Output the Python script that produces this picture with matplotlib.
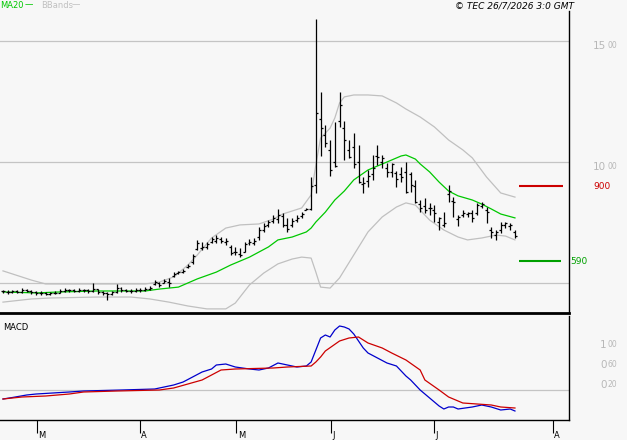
import matplotlib
matplotlib.use("Agg")
import matplotlib.pyplot as plt
from matplotlib.transforms import blended_transform_factory

# daily OHLC bars
opens = [466, 464, 462, 466, 463, 470, 466, 462, 458, 460, 456, 458, 460, 466, 472, 470,
         468, 471, 469, 467, 474, 462, 458, 455, 462, 478, 470, 468, 466, 472, 470, 474,
         495, 500, 502, 505, 530, 542, 545, 565, 585, 640, 645, 650, 668, 675, 680, 670,
         650, 630, 620, 630, 665, 665, 690, 720, 740, 755, 765, 775, 740, 740, 760, 775,
         802, 805, 905, 1178, 1112, 1050, 1000, 1170, 1140, 1050, 1060, 1000, 910, 920, 950, 1025,
         1000, 975, 960, 955, 950, 959, 950, 900, 825, 820, 810, 800, 750, 740, 868, 840,
         765, 780, 785, 790, 790, 820, 800, 720, 700, 720, 740, 735, 710]
highs = [472, 470, 470, 472, 478, 474, 470, 466, 468, 462, 464, 466, 474, 478, 476, 474,
         480, 475, 474, 500, 476, 466, 462, 468, 495, 482, 476, 474, 480, 478, 484, 488,
         512, 504, 517, 521, 545, 550, 558, 580, 620, 678, 669, 668, 690, 698, 690, 686,
         657, 649, 645, 669, 682, 686, 731, 748, 760, 781, 806, 789, 769, 769, 781, 793,
         810, 938, 1591, 1289, 1153, 1091, 1165, 1289, 1169, 1091, 1120, 1070, 938, 967, 1029, 1070,
         1029, 996, 996, 963, 979, 1000, 959, 926, 843, 851, 831, 822, 773, 793, 905, 855,
         781, 802, 793, 802, 831, 835, 814, 731, 719, 752, 752, 748, 719]
lows = [458, 456, 458, 458, 460, 462, 455, 452, 452, 450, 452, 454, 458, 462, 464, 462,
        464, 462, 460, 464, 456, 450, 430, 452, 458, 464, 462, 460, 462, 464, 466, 470,
        492, 483, 498, 483, 525, 538, 540, 560, 580, 636, 636, 640, 665, 665, 665, 657,
        616, 616, 607, 628, 657, 657, 678, 711, 731, 748, 748, 731, 711, 731, 752, 769,
        800, 802, 870, 1025, 1062, 942, 979, 1145, 1008, 1017, 975, 913, 872, 897, 926, 988,
        975, 938, 938, 897, 917, 872, 876, 831, 793, 789, 781, 752, 719, 731, 835, 773,
        736, 773, 773, 752, 781, 810, 748, 686, 678, 707, 727, 719, 686]
closes = [465, 462, 466, 463, 470, 468, 462, 458, 460, 456, 458, 460, 466, 472, 470, 468,
          471, 469, 467, 474, 462, 458, 455, 462, 478, 470, 468, 466, 472, 470, 474, 480,
          505, 490, 510, 500, 538, 545, 550, 572, 610, 665, 650, 660, 680, 685, 675, 675,
          625, 628, 615, 660, 670, 675, 720, 735, 750, 770, 780, 740, 725, 755, 770, 785,
          806, 900, 1202, 1140, 1079, 967, 983, 1236, 1091, 1021, 992, 917, 913, 942, 975, 1021,
          1017, 959, 992, 930, 938, 876, 905, 835, 810, 802, 810, 789, 769, 748, 880, 835,
          773, 789, 789, 769, 822, 825, 793, 711, 711, 740, 748, 740, 694]

# moving average and bollinger bands (read at bar index)
ma_idx = [0, 7, 12, 20, 30, 33, 37, 41, 45, 48, 52, 56, 58, 61, 64, 65, 66, 68, 70, 72,
          74, 77, 81, 84, 85, 87, 88, 90, 92, 94, 96, 99, 101, 103, 105, 108]
ma20 = [463, 459, 463, 467, 467, 475, 483, 517, 545, 574, 607, 649, 678, 690, 711, 727,
        752, 793, 843, 880, 926, 967, 1000, 1025, 1029, 1012, 992, 959, 917, 880, 860, 843,
        826, 806, 785, 769]
up_idx = [0, 6, 9, 20, 30, 33, 36, 39, 41, 44, 47, 50, 54, 57, 59, 63, 65, 66, 67, 69,
          70, 71, 72, 74, 77, 80, 83, 85, 88, 91, 94, 97, 99, 102, 105, 108]
bb_up = [550, 512, 496, 496, 496, 504, 525, 574, 616, 686, 727, 740, 744, 764, 785, 810,
         864, 988, 1099, 1140, 1182, 1244, 1269, 1277, 1277, 1273, 1244, 1219, 1186, 1145,
         1091, 1050, 1017, 938, 872, 855]
lo_idx = [0, 6, 10, 20, 27, 31, 35, 39, 43, 47, 49, 52, 55, 58, 61, 63, 65, 66, 67, 69,
          71, 74, 77, 80, 83, 85, 87, 90, 93, 96, 98, 101, 104, 106, 108]
bb_low = [421, 434, 438, 442, 442, 434, 421, 405, 393, 393, 417, 492, 541, 579, 599, 607,
          603, 545, 483, 479, 521, 616, 711, 773, 814, 831, 822, 760, 719, 690, 678, 686,
          698, 694, 678]

# MACD panel
macd_idx = [0, 2, 5, 7, 14, 17, 25, 32, 34, 36, 38, 40, 42, 44, 45, 47, 49, 52, 54, 56,
            58, 60, 62, 64, 65, 66, 67, 68, 69, 70, 71, 72, 73, 74, 76, 77, 79, 81, 83, 85,
            86, 88, 90, 92, 93, 94, 95, 96, 99, 101, 103, 105, 107, 108]
macd = [-0.18, -0.15, -0.10, -0.08, -0.04, -0.02, 0.00, 0.02, 0.06, 0.10, 0.16, 0.26, 0.36,
        0.42, 0.50, 0.52, 0.46, 0.42, 0.40, 0.44, 0.54, 0.50, 0.46, 0.48, 0.56, 0.80, 1.04,
        1.10, 1.06, 1.20, 1.28, 1.26, 1.22, 1.12, 0.84, 0.74, 0.64, 0.54, 0.48, 0.28, 0.20,
        0.00, -0.16, -0.32, -0.38, -0.34, -0.34, -0.38, -0.34, -0.30, -0.34, -0.40, -0.38, -0.42]
sig_idx = [0, 4, 9, 14, 17, 24, 33, 36, 39, 42, 44, 46, 49, 57, 60, 65, 66, 67, 68, 71,
           73, 75, 77, 80, 82, 85, 88, 89, 92, 94, 97, 100, 103, 105, 108]
signal = [-0.18, -0.14, -0.12, -0.08, -0.04, -0.02, 0.00, 0.04, 0.12, 0.20, 0.30, 0.40,
          0.42, 0.44, 0.46, 0.48, 0.56, 0.66, 0.78, 0.98, 1.04, 1.06, 0.94, 0.84, 0.74, 0.60,
          0.40, 0.20, 0.00, -0.14, -0.26, -0.28, -0.30, -0.34, -0.36]

month_ticks = [7.2, 28.9, 49.2, 69.2, 90.9, 116.0]
month_labels = ["M", "A", "M", "J", "J", "A"]
price_ticks = [1500, 1000]
macd_ticks = [1.00, 0.60, 0.20]
resistance = 900
support = 590

W, H = 627, 440
bg = "#f7f7f7"
grey = "#c4c4c4"
lbl = "#b8b8b8"

fig = plt.figure(figsize=(W / 100, H / 100), dpi=100, facecolor=bg)
ax = fig.add_axes([0, 1 - 313 / H, 569 / W, 302 / H], facecolor=bg)
ax2 = fig.add_axes([0, 1 - 420 / H, 569 / W, 104 / H], facecolor=bg)

xmin, xmax = -0.63, 119.4
n = len(closes)
xs = list(range(n))

# ---- price panel
for g in price_ticks + [500]:
    ax.axhline(g, color=grey, lw=0.9, zorder=0)
ax.plot(up_idx, bb_up, color="#c0c0c0", lw=0.9)
ax.plot(lo_idx, bb_low, color="#c0c0c0", lw=0.9)
ax.plot(ma_idx, ma20, color="#00c800", lw=0.9)
ax.vlines(xs, lows, highs, color="black", lw=0.9)
ax.hlines(opens, [x - 0.42 for x in xs], xs, color="black", lw=0.9)
ax.hlines(closes, xs, [x + 0.42 for x in xs], color="black", lw=0.9)

ax.hlines(resistance, 108.9, 118.1, color="#cc0000", lw=1.5)
ax.hlines(support, 108.9, 117.7, color="#00a000", lw=1.5)

ax.set_xlim(xmin, xmax)
ax.set_ylim(376, 1624)
ax.set_xticks([])
ax.set_yticks([])
for s in ["top", "left"]:
    ax.spines[s].set_visible(False)
ax.spines["bottom"].set_linewidth(2)
ax.spines["right"].set_linewidth(1)

# right hand labels: big leading digits, small trailing digits
tr = blended_transform_factory(fig.transFigure, ax.transData)
for p in price_ticks:
    ax.text(593 / W, p, str(p)[:-2], transform=tr, fontsize=7.5, color=lbl,
            va="top", ha="left")
    ax.text(607.5 / W, p, "00", transform=tr, fontsize=5.5, color=lbl,
            va="top", ha="left")
ax.text(593 / W, resistance, str(resistance), transform=tr, fontsize=6.5,
        color="#cc0000", va="center", ha="left")
ax.text(570 / W, support, str(support), transform=tr, fontsize=6.5,
        color="#00a000", va="center", ha="left")

# ---- MACD panel
ax2.axhline(0, color=grey, lw=0.9, zorder=0)
ax2.plot(macd_idx, macd, color="#0000cc", lw=0.9)
ax2.plot(sig_idx, signal, color="#cc0000", lw=0.9)
ax2.set_xlim(xmin, xmax)
ax2.set_ylim(-0.6, 1.48)
ax2.set_yticks([])
for s in ["top", "left"]:
    ax2.spines[s].set_visible(False)
ax2.spines["bottom"].set_linewidth(1)
ax2.spines["right"].set_linewidth(1)
ax2.set_xticks(month_ticks)
ax2.set_xticklabels([])
ax2.tick_params(axis="x", direction="out", length=9, width=0.8, color="black")
trx = blended_transform_factory(ax2.transData, fig.transFigure)
for t, lab in zip(month_ticks, month_labels):
    ax2.text(t + 0.3, 1 - 431 / H, lab, transform=trx, fontsize=6, va="top",
             ha="left", color="black")
tr2 = blended_transform_factory(fig.transFigure, ax2.transData)
for v in macd_ticks:
    whole, frac = f"{v:.2f}".split(".")
    ax2.text(600 / W, v, whole, transform=tr2, fontsize=7.5, color=lbl, va="top", ha="left")
    ax2.text(607.5 / W, v, frac, transform=tr2, fontsize=5.5, color=lbl, va="top", ha="left")
ax2.text(0.005, 0.93, "MACD", transform=ax2.transAxes, fontsize=6, va="top", ha="left")

# ---- header
fig.text(0 / W, 1 - 6 / H, "MA20", fontsize=6, color="#00c800", va="center", ha="left")
fig.text(25 / W, 1 - 5 / H, "\u2014", fontsize=6, color="#00c800", va="center", ha="left")
fig.text(41 / W, 1 - 6 / H, "BBands", fontsize=6, color="#c0c0c0", va="center", ha="left")
fig.text(72 / W, 1 - 5 / H, "\u2014", fontsize=6, color="#c0c0c0", va="center", ha="left")
fig.text(574 / W, 1 - 6 / H, "\u00a9 TEC 26/7/2026 3:0 GMT", fontsize=6.5, style="italic",
         color="black", va="center", ha="right")

fig.savefig("out.png", dpi=100, facecolor=bg)
